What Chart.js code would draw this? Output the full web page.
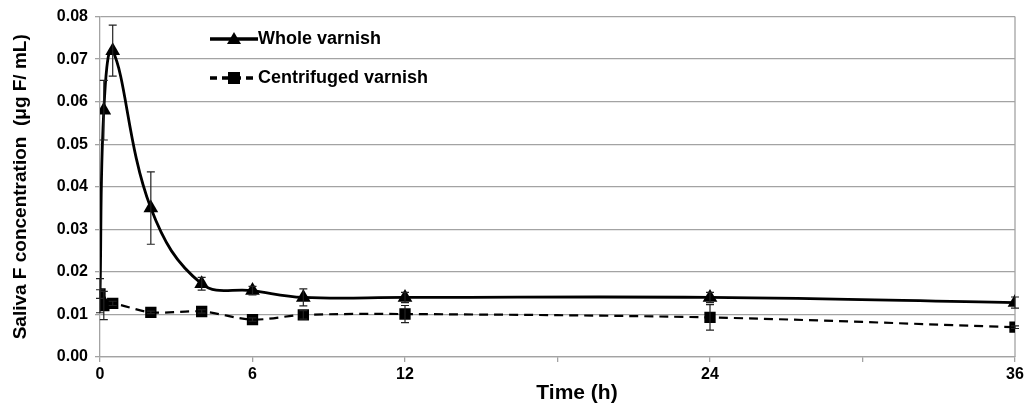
<!DOCTYPE html>
<html>
<head>
<meta charset="utf-8">
<script src="https://cdn.jsdelivr.net/npm/chart.js@4"></script>
<style>
  html, body { margin: 0; padding: 0; background: #fff; }
  #wrap { width: 1029px; height: 406px; position: relative; }
</style>
</head>
<body>
<div id="wrap"><canvas id="salivaChart"></canvas></div>
<script>
// Data
const times = [0, 0.15, 0.5, 2, 4, 6, 8, 12, 24, 36];
const wholeVarnish = [0.0144, 0.058, 0.072, 0.035, 0.0172, 0.0156, 0.014, 0.014, 0.014, 0.0128];
const wholeErr = [0.004, 0.007, 0.006, 0.0085, 0.0015, 0.001, 0.002, 0.0012, 0.0012, 0.0013];
const centrifugedVarnish = [0.0148, 0.0121, 0.0126, 0.0105, 0.0107, 0.0088, 0.0099, 0.0101, 0.0093, 0.0070];
const centrifugedErr = [0.001, 0.0033, 0.0005, 0.0003, 0.0004, 0.0004, 0.001, 0.002, 0.003, 0.0003];
const xTicksShown = [0, 6, 12, 24, 36];

const fontFamily = '"Liberation Sans", Arial, sans-serif';
const gridGray = '#a3a3a3';

function toPoints(values) {
  return times.map((t, i) => ({ x: t, y: values[i] }));
}

// error bars, right border, x title and legend
const extras = {
  id: 'extras',
  beforeDatasetsDraw(chart) {
    const { ctx, chartArea } = chart;
    ctx.save();
    ctx.strokeStyle = gridGray;
    ctx.lineWidth = 1.3;
    ctx.beginPath();
    ctx.moveTo(chartArea.right, chartArea.top);
    ctx.lineTo(chartArea.right, chartArea.bottom);
    ctx.stroke();

    ctx.fillStyle = '#000';
    ctx.font = 'bold 21px ' + fontFamily;
    ctx.textAlign = 'center';
    ctx.textBaseline = 'middle';
    ctx.fillText('Time (h)', 577, 393);
    ctx.restore();
  },
  afterDatasetsDraw(chart) {
    const { ctx } = chart;
    const xs = chart.scales.x;
    const ys = chart.scales.y;
    const errSets = [wholeErr, centrifugedErr];
    const valSets = [wholeVarnish, centrifugedVarnish];

    ctx.save();
    ctx.strokeStyle = '#222';
    ctx.lineWidth = 1.2;
    valSets.forEach((vals, d) => {
      vals.forEach((v, i) => {
        const px = xs.getPixelForValue(times[i]);
        const top = ys.getPixelForValue(v + errSets[d][i]);
        const bot = ys.getPixelForValue(v - errSets[d][i]);
        ctx.beginPath();
        ctx.moveTo(px, top); ctx.lineTo(px, bot);
        ctx.moveTo(px - 4, top); ctx.lineTo(px + 4, top);
        ctx.moveTo(px - 4, bot); ctx.lineTo(px + 4, bot);
        ctx.stroke();
      });
    });

    // legend
    const lx = 210, lw = 48;
    const rows = [
      { y: 39, text: 'Whole varnish', dash: [], marker: 'triangle' },
      { y: 78, text: 'Centrifuged varnish', dash: [7, 5], marker: 'square' }
    ];
    rows.forEach(r => {
      ctx.strokeStyle = '#000';
      ctx.lineWidth = 3.5;
      ctx.setLineDash(r.dash);
      ctx.beginPath();
      ctx.moveTo(lx, r.y); ctx.lineTo(lx + lw, r.y);
      ctx.stroke();
      ctx.setLineDash([]);
      ctx.fillStyle = '#000';
      const cx = lx + lw / 2;
      if (r.marker === 'triangle') {
        ctx.beginPath();
        ctx.moveTo(cx, r.y - 7);
        ctx.lineTo(cx + 7, r.y + 5);
        ctx.lineTo(cx - 7, r.y + 5);
        ctx.closePath();
        ctx.fill();
      } else {
        ctx.fillRect(cx - 6, r.y - 6, 12, 12);
      }
      ctx.font = 'bold 18px ' + fontFamily;
      ctx.textBaseline = 'middle';
      ctx.textAlign = 'left';
      ctx.fillText(r.text, lx + lw, r.y);
    });
    ctx.restore();
  }
};

new Chart(document.getElementById('salivaChart'), {
  type: 'line',
  data: {
    datasets: [
      {
        label: 'Whole varnish',
        data: toPoints(wholeVarnish),
        borderColor: '#000',
        backgroundColor: '#000',
        borderWidth: 2.8,
        tension: 0.4,
        pointStyle: 'triangle',
        pointRadius: 8.5,
        pointBorderWidth: 0
      },
      {
        label: 'Centrifuged varnish',
        data: toPoints(centrifugedVarnish),
        borderColor: '#000',
        backgroundColor: '#000',
        borderWidth: 2.2,
        borderDash: [9, 6],
        tension: 0.3,
        pointStyle: 'rect',
        pointRadius: 8,
        pointBorderWidth: 0
      }
    ]
  },
  options: {
    responsive: true,
    maintainAspectRatio: false,
    animation: false,
    layout: { padding: { left: 0, right: 14, top: 13, bottom: 0 } },
    plugins: {
      legend: { display: false },
      tooltip: { enabled: false }
    },
    scales: {
      x: {
        type: 'linear',
        min: 0,
        max: 36,
        grid: { drawOnChartArea: false, drawTicks: true, tickLength: 5, color: gridGray, lineWidth: 1.3 },
        border: { color: gridGray, width: 1.3 },
        ticks: {
          stepSize: 6,
          padding: 3,
          maxRotation: 0,
          color: '#000',
          font: { family: fontFamily, size: 16, weight: 'bold' },
          callback: v => xTicksShown.includes(v) ? String(v) : ''
        },
        afterFit(scale) { scale.height = 49; }
      },
      y: {
        min: 0,
        max: 0.08,
        grid: { color: gridGray, lineWidth: 1.3, tickLength: 5 },
        border: { color: gridGray, width: 1.3 },
        ticks: {
          stepSize: 0.01,
          padding: 7,
          color: '#000',
          font: { family: fontFamily, size: 16, weight: 'bold' },
          callback: v => v.toFixed(2)
        },
        title: {
          display: true,
          text: 'Saliva F concentration  (μg F/ mL)',
          color: '#000',
          font: { family: fontFamily, size: 19, weight: 'bold' },
          padding: { top: 9, bottom: 0 }
        },
        afterFit(scale) { scale.width = 100; }
      }
    }
  },
  plugins: [extras]
});
</script>
</body>
</html>
